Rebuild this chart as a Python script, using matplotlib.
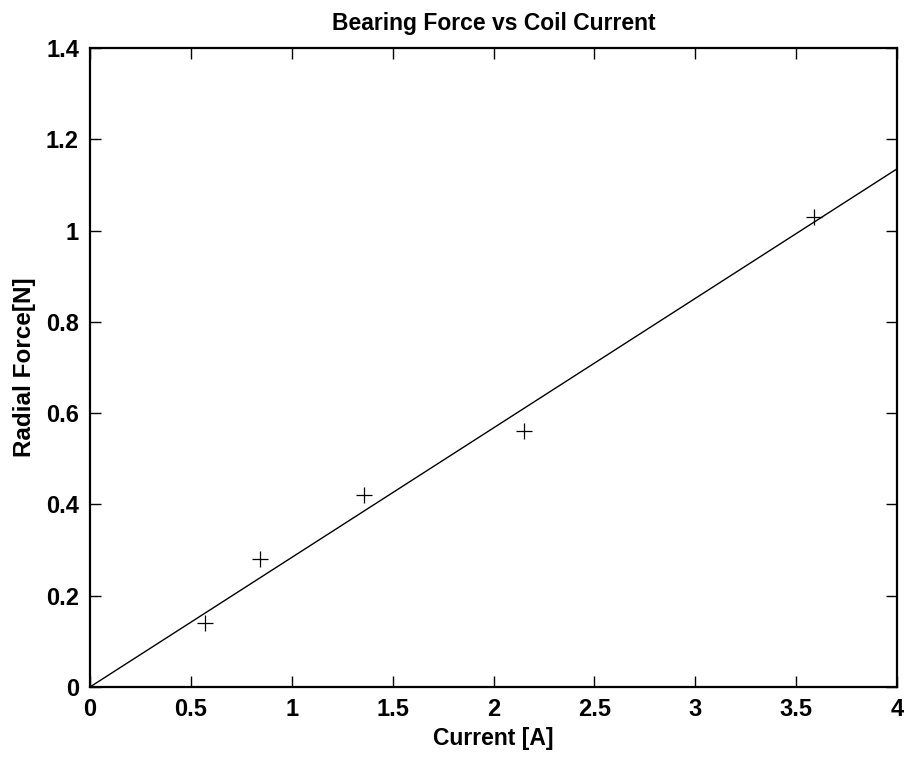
import numpy as np
import matplotlib
matplotlib.use('Agg')
from matplotlib import pyplot as plt

# measured points
current = [0.57, 0.84, 1.36, 2.15, 3.59]   # A
force = [0.14, 0.28, 0.42, 0.56, 1.03]     # N

x_ticks = [0, 0.5, 1, 1.5, 2, 2.5, 3, 3.5, 4]
x_ticklabels = ['0', '0.5', '1', '1.5', '2', '2.5', '3', '3.5', '4']
y_ticks = [0, 0.2, 0.4, 0.6, 0.8, 1.0, 1.2, 1.4]
y_ticklabels = ['0', '0.2', '0.4', '0.6', '0.8', '1', '1.2', '1.4']

# least squares fit through the origin
xi = np.array(current)
yi = np.array(force)
k = np.sum(xi * yi) / np.sum(xi * xi)
xfit = np.array([0, 4])

plt.rcParams['font.family'] = ['Liberation Sans', 'DejaVu Sans']

fig = plt.figure(figsize=(9.09, 7.58), dpi=100)
ax = fig.add_axes([0.099, 0.0937, 0.888, 0.843])

ax.plot(xfit, k * xfit, 'k-', linewidth=1.0)
ax.plot(current, force, 'k+', markersize=11, markeredgewidth=0.9)

ax.set_xlim(0, 4)
ax.set_ylim(0, 1.4)
ax.set_xticks(x_ticks)
ax.set_xticklabels(x_ticklabels)
ax.set_yticks(y_ticks)
ax.set_yticklabels(y_ticklabels)
ax.tick_params(direction='in', top=True, right=True, length=8, width=1.0,
               labelsize=17, pad=8)
for lab in ax.get_xticklabels() + ax.get_yticklabels():
    lab.set_fontweight('bold')
for s in ax.spines.values():
    s.set_linewidth(1.6)

ax.set_title('Bearing Force vs Coil Current', fontsize=16.5, fontweight='bold', pad=13)
ax.set_xlabel('Current [A]', fontsize=16.5, fontweight='bold', labelpad=4)
ax.set_ylabel('Radial Force[N]', fontsize=17.5, fontweight='bold', labelpad=7)

fig.savefig('out.png', dpi=100)
